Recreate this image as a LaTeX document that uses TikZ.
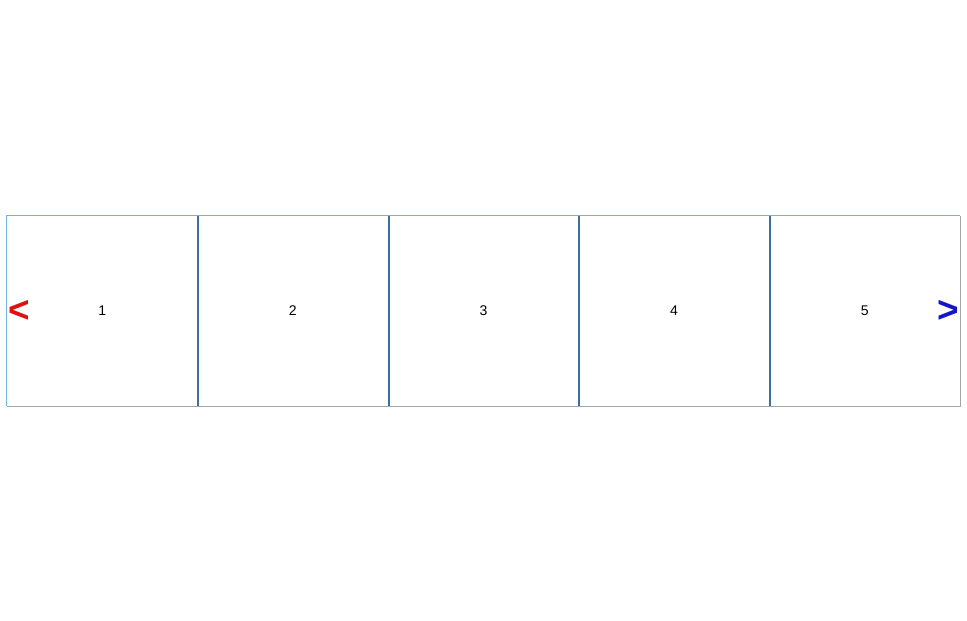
\documentclass[tikz,border=0pt]{standalone}
\usepackage{fontspec}
\setmainfont{Liberation Sans}
\definecolor{framelight}{HTML}{6FB4DE}
\definecolor{framegray}{HTML}{A6A6A6}
\definecolor{divblue}{HTML}{3D6FA6}
\definecolor{prevred}{HTML}{E01010}
\definecolor{nextblue}{HTML}{1414C8}
\tikzset{
  cell/.style={minimum width=3.812cm,minimum height=3.8cm,inner sep=0pt,font=\fontsize{8}{9}\selectfont},
  toparrow/.style={inner sep=0pt,font=\fontsize{21}{21}\selectfont\bfseries},
}
\begin{document}
\begin{tikzpicture}[x=0.02cm,y=-0.02cm]
\useasboundingbox (0,0) rectangle (967,621);

\node[cell] (c1) at (102.3,311) {1};
\node[cell] (c2) at (292.9,311) {2};
\node[cell] (c3) at (483.5,311) {3};
\node[cell] (c4) at (674.1,311) {4};
\node[cell] (c5) at (864.7,311) {5};

\draw[framelight,line width=0.8pt] (c1.south west) -- (c1.north west) -- (c5.north east);
\draw[framegray,line width=0.8pt] (c1.south west) -- (c5.south east) -- (c5.north east);

\draw[divblue,line width=1.1pt] (c1.north east) -- (c1.south east);
\draw[divblue,line width=1.1pt] (c2.north east) -- (c2.south east);
\draw[divblue,line width=1.1pt] (c3.north east) -- (c3.south east);
\draw[divblue,line width=1.1pt] (c4.north east) -- (c4.south east);

\node[toparrow,prevred,anchor=west] (prev) at (8,311) {<};
\node[toparrow,nextblue,anchor=east] (next) at (959,311) {>};
\end{tikzpicture}
\end{document}
